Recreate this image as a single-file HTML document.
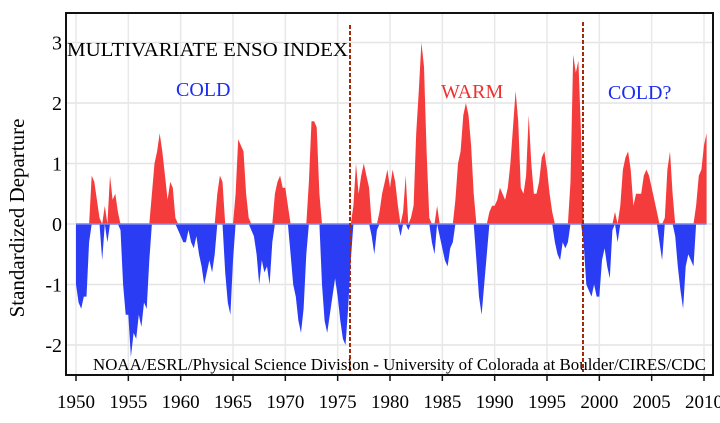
<!DOCTYPE html>
<html><head><meta charset="utf-8"><style>
body{margin:0;background:#fff;}
svg text{font-family:"Liberation Serif",serif;}
</style></head><body>
<svg id="c" width="720" height="418" viewBox="0 0 720 418">
<rect x="66" y="13" width="647" height="362" fill="#fff" stroke="#111" stroke-width="2"/>
<g id="grid"></g>
<g id="areas"></g>
<g id="ticks"></g>
<line x1="350" y1="25" x2="350" y2="372" stroke="#a52a0a" stroke-width="2" stroke-dasharray="4,2"/>
<line x1="583" y1="22" x2="583" y2="372" stroke="#a52a0a" stroke-width="2" stroke-dasharray="4,2"/>
<text x="67" y="56" font-size="20" textLength="281" lengthAdjust="spacingAndGlyphs">MULTIVARIATE ENSO INDEX</text>
<text x="176" y="96" font-size="20" fill="#1a2cf0">COLD</text>
<text x="441" y="98" font-size="20" fill="#f03030">WARM</text>
<text x="608" y="99" font-size="20" fill="#1a2cf0">COLD?</text>
<text x="93" y="370" font-size="17" textLength="613" lengthAdjust="spacingAndGlyphs">NOAA/ESRL/Physical Science Division - University of Colorada at Boulder/CIRES/CDC</text>
<text transform="translate(24,218) rotate(-90)" text-anchor="middle" font-size="21">Standardized Departure</text>
</svg>
<script>
const yTicks=[-2,-1,0,1,2,3];
const xTicks=[1950,1955,1960,1965,1970,1975,1980,1985,1990,1995,2000,2005,2010];
const startYear=1950;
const perYear=4;
const meiValues=[
-1.0,-1.3,-1.4,-1.2, -1.2,-0.3,0.8,0.7, 0.4,0.1,-0.6,0.3, -0.3,0.8,0.4,0.5, 0.2,-0.1,-1.0,-1.5,
-1.5,-2.2,-1.8,-1.9, -1.5,-1.7,-1.3,-1.4, -0.6,0.5,1.0,1.2, 1.5,1.2,0.8,0.4, 0.7,0.6,0.1,-0.1,
-0.2,-0.3,-0.3,-0.1, -0.3,-0.4,-0.2,-0.5, -0.7,-1.0,-0.8,-0.6, -0.8,-0.5,0.5,0.8, 0.7,-0.8,-1.3,-1.5,
-0.6,0.5,1.4,1.3, 1.2,0.5,0.1,-0.1, -0.2,-0.5,-1.0,-0.6, -0.8,-0.7,-1.0,-0.3, 0.5,0.7,0.8,0.6,
0.6,0.3,-0.5,-1.0, -1.2,-1.6,-1.8,-1.4, -0.5,0.7,1.7,1.7, 1.6,0.5,-1.0,-1.6, -1.8,-1.5,-1.2,-0.9,
-1.2,-1.6,-1.9,-2.0, -1.4,-0.6,0.3,1.0, 0.5,0.8,1.0,0.8, 0.6,-0.2,-0.5,-0.1, 0.2,0.5,0.7,0.9,
0.6,0.9,0.7,0.3, -0.2,0.2,0.8,-0.1, 0.1,0.3,1.5,2.2, 3.0,2.6,1.2,0.1, -0.3,-0.5,0.3,-0.2,
-0.4,-0.6,-0.7,-0.4, -0.3,0.4,1.0,1.2, 1.8,2.0,1.8,1.3, 0.5,-0.6,-1.2,-1.5, -1.0,-0.5,0.2,0.3,
0.3,0.4,0.6,0.5, 0.4,0.6,1.0,1.6, 2.2,1.7,0.6,0.5, 0.8,1.8,1.0,0.5, 0.5,0.7,1.1,1.2,
0.9,0.5,0.2,-0.3, -0.5,-0.6,-0.3,-0.4, -0.3,0.7,2.8,2.5, 2.7,1.5,-0.3,-1.0, -1.1,-1.2,-1.0,-1.2,
-1.2,-0.6,-0.4,-0.7, -0.9,-0.1,0.2,-0.3, 0.3,0.9,1.1,1.2, 0.9,0.3,0.5,0.5, 0.5,0.8,0.9,0.8,
0.6,0.4,0.2,-0.3, -0.6,0.1,0.9,1.2, 0.5,-0.2,-0.7,-1.1, -1.4,-0.7,-0.5,-0.6, -0.7,0.3,0.8,0.9,
1.3,1.5];
const NS="http://www.w3.org/2000/svg";
const xs=y=>76+(y-1950)*(628/60);
const ys=v=>224-v*60.5;
function mk(tag,attrs,parent){const e=document.createElementNS(NS,tag);for(const k in attrs)e.setAttribute(k,attrs[k]);parent.appendChild(e);return e;}
const grid=document.getElementById('grid'),ticks=document.getElementById('ticks'),areas=document.getElementById('areas');
yTicks.forEach(v=>{
 const l=mk('line',{x1:67,x2:712,y1:ys(v),y2:ys(v),stroke:'#e4e4e4','stroke-width':1.5},grid);
 
 
 const t=mk('text',{x:62,y:ys(v)+7,'text-anchor':'end','font-size':20},ticks);t.textContent=v;
 
 
});
xTicks.forEach(y=>{
 const l=mk('line',{x1:xs(y),x2:xs(y),y1:14,y2:374,stroke:'#e8e8e8','stroke-width':1.5},grid);
 
 
 const tk=mk('line',{x1:xs(y),x2:xs(y),y1:375,y2:381,stroke:'#111','stroke-width':1.5},ticks);
 
 
 const t=mk('text',{x:xs(y),y:408,'text-anchor':'middle','font-size':19},ticks);t.textContent=y;
 
 
});
function areaPath(sign){
 let d='M'+xs(startYear)+','+ys(0);
 meiValues.forEach((v,i)=>{const yr=startYear+i/perYear;const c=sign>0?Math.max(v,0):Math.min(v,0);d+=' L'+xs(yr).toFixed(1)+','+ys(c).toFixed(1);});
 d+=' L'+xs(startYear+(meiValues.length-1)/perYear).toFixed(1)+','+ys(0)+' Z';return d;
}
const pos=mk('path',{d:areaPath(1),fill:'#f53c3c'},areas);


const neg=mk('path',{d:areaPath(-1),fill:'#2b3cf5'},areas);


const z=mk('line',{x1:xs(1950),x2:xs(startYear+(meiValues.length-1)/perYear),y1:ys(0),y2:ys(0),stroke:'#7a86f0','stroke-width':1.5},areas);


</script>
</body></html>
